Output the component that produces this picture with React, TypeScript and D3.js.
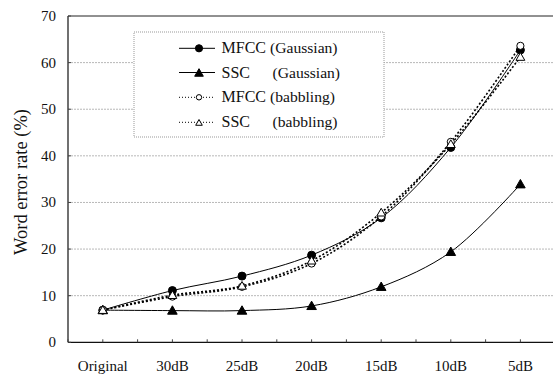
import React from "react";
import * as d3 from "d3";

const categories = ["Original", "30dB", "25dB", "20dB", "15dB", "10dB", "5dB"];
const mfccGaussian = [6.9, 11.1, 14.2, 18.7, 26.7, 41.8, 62.7];
const sscGaussian = [6.9, 6.8, 6.8, 7.8, 11.9, 19.4, 33.9];
const mfccBabbling = [6.9, 9.8, 11.9, 16.9, 27.0, 43.0, 63.6];
const sscBabbling = [6.9, 10.1, 12.1, 17.5, 27.8, 42.5, 61.2];
const yTicks = [0, 10, 20, 30, 40, 50, 60, 70];

const seriesNames = ["MFCC", "SSC", "MFCC", "SSC"];
const seriesNoise = ["(Gaussian)", "(Gaussian)", "(babbling)", "(babbling)"];

const W = 553;
const H = 376;
const left = 68;
const top = 16;
const bottom = 342.3;
const band = 69.6;
const FONT = "Liberation Serif, DejaVu Serif, serif";
const tstyle = { fontFamily: FONT };

export default function App() {
  const x = d3
    .scaleBand<string>()
    .domain(categories)
    .range([left, left + band * categories.length])
    .paddingInner(0)
    .paddingOuter(0);
  const cx = (c: string) => (x(c) as number) + x.bandwidth() / 2;
  const y = d3.scaleLinear().domain([0, 70]).range([bottom, top]);

  const line = d3
    .line<number>()
    .x((_, i) => cx(categories[i]))
    .y((d) => y(d))
    .curve(d3.curveCatmullRom.alpha(0.5));

  const series = [
    { data: mfccGaussian, dash: undefined, marker: "circle", filled: true },
    { data: sscGaussian, dash: undefined, marker: "triangle", filled: true },
    { data: mfccBabbling, dash: "2 2", marker: "circle", filled: false },
    { data: sscBabbling, dash: "2 2", marker: "triangle", filled: false },
  ];

  const triPath = (px: number, py: number, s: number) =>
    `M${px},${py - s}L${px + s},${py + s * 0.75}L${px - s},${py + s * 0.75}Z`;

  const marker = (kind: string, filled: boolean, px: number, py: number, key: string, scale = 1) => {
    if (kind === "circle") {
      return (
        <circle
          key={key}
          cx={px}
          cy={py}
          r={(filled ? 4 : 3.6) * scale}
          fill={filled ? "#000" : "#fff"}
          stroke="#000"
          strokeWidth={1}
        />
      );
    }
    return (
      <path
        key={key}
        d={triPath(px, py + (scale < 1 ? 0.5 : 0), (filled ? 4.8 : 4.4) * scale)}
        fill={filled ? "#000" : "#fff"}
        stroke="#000"
        strokeWidth={1}
      />
    );
  };

  const tickPositions: number[] = [];
  for (let i = 0; i <= categories.length * 2; i++) tickPositions.push(left + (band / 2) * i);

  const legendX = 134;
  const legendY = 32;
  const legendRows = [48.3, 72.5, 97.3, 122.3];
  const parenX = [270, 272.5, 270, 272.5];

  return (
    <svg
      width={W}
      height={H}
      style={{ position: "absolute", left: 0, top: 0, background: "#fff", fontFamily: FONT }}
    >
      <rect x={0} y={0} width={W} height={H} fill="#fff" />
      {yTicks
        .filter((t) => t > 0 && t < 70)
        .map((t) => (
          <line
            key={"g" + t}
            x1={left}
            x2={W}
            y1={y(t)}
            y2={y(t)}
            stroke="#b8b8b8"
            strokeWidth={1}
            strokeDasharray="2 1"
          />
        ))}
      <line x1={left} x2={W} y1={top} y2={top} stroke="#222" strokeWidth={1} />
      <line x1={left} x2={left} y1={top} y2={bottom} stroke="#111" strokeWidth={1.2} />
      <line x1={left} x2={W} y1={bottom} y2={bottom} stroke="#111" strokeWidth={1.2} />
      {tickPositions.map((p, i) => (
        <line key={"xt" + i} x1={p} x2={p} y1={bottom} y2={bottom - 3} stroke="#444" strokeWidth={1} />
      ))}
      {yTicks.map((t) => (
        <line key={"yt" + t} x1={left} x2={left + 3} y1={y(t)} y2={y(t)} stroke="#444" strokeWidth={1} />
      ))}
      {yTicks.map((t) => (
        <text key={"yl" + t} x={56} y={y(t) + 5} textAnchor="end" fontSize={15} fill="#111" style={tstyle}>
          {t}
        </text>
      ))}
      {categories.map((c) => (
        <text key={"xl" + c} x={cx(c)} y={371} textAnchor="middle" fontSize={15} fill="#111" style={tstyle}>
          {c}
        </text>
      ))}
      <text
        transform={`translate(27,182) rotate(-90)`}
        textAnchor="middle"
        fontSize={18.5}
        fill="#111"
        style={tstyle}
      >
        Word error rate (%)
      </text>
      {series.map((s, i) => (
        <path
          key={"l" + i}
          d={line(s.data) || ""}
          fill="none"
          stroke="#000"
          strokeWidth={s.dash ? 1.6 : 1}
          strokeDasharray={s.dash}
        />
      ))}
      {series.map((s, i) =>
        s.data.map((v, j) => marker(s.marker, s.filled, cx(categories[j]), y(v), `m${i}-${j}`))
      )}
      <rect
        x={legendX}
        y={legendY}
        width={250}
        height={105}
        fill="#fff"
        stroke="#999"
        strokeWidth={1}
        strokeDasharray="1 1"
      />
      {series.map((s, i) => (
        <g key={"lg" + i}>
          <line
            x1={179}
            x2={215}
            y1={legendRows[i]}
            y2={legendRows[i]}
            stroke="#000"
            strokeWidth={s.dash ? 1 : 1}
            strokeDasharray={s.dash ? "1 2" : undefined}
          />
          {marker(s.marker, s.filled, 199, legendRows[i], "lm" + i, s.filled ? 0.9 : 0.75)}
          <text x={221.5} y={legendRows[i] + 5} fontSize={16} fill="#111" style={tstyle}>
            {seriesNames[i]}
          </text>
          <text x={parenX[i]} y={legendRows[i] + 5} fontSize={15.6} fill="#111" style={tstyle}>
            {seriesNoise[i]}
          </text>
        </g>
      ))}
    </svg>
  );
}
